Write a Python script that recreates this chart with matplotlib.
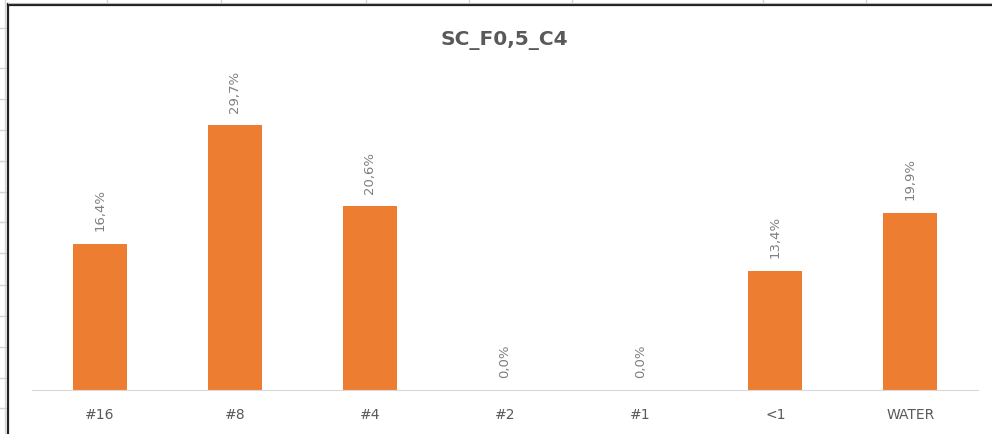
import matplotlib
matplotlib.use("Agg")
import matplotlib.pyplot as plt
from matplotlib.lines import Line2D

categories = ["#16", "#8", "#4", "#2", "#1", "<1", "WATER"]
percent = [16.4, 29.7, 20.6, 0.0, 0.0, 13.4, 19.9]
title = "SC_F0,5_C4"

# sheet grid visible around the chart object (pixels)
col_lines = [107, 221, 366, 469, 572, 763, 866]
row_lines = [28, 68, 99, 130, 161, 192, 222, 253, 285, 316, 347, 378, 408]

W, H = 992, 434
plt.rcParams['font.family'] = ['DejaVu Sans']
fig = plt.figure(figsize=(W / 100, H / 100), dpi=100)

# spreadsheet grid lines peeking out at the edges
for x in col_lines:
    fig.add_artist(Line2D([x / W, x / W], [1 - 4 / H, 1], color="#d4d4d4", lw=1))
for y in row_lines:
    fig.add_artist(Line2D([0, 7 / W], [1 - y / H, 1 - y / H], color="#d4d4d4", lw=1))
fig.add_artist(Line2D([4.5 / W, 4.5 / W], [0, 1], color="#d4d4d4", lw=1))

# chart object border
fig.add_artist(Line2D([7.5 / W, 7.5 / W], [0, 1 - 4 / H], color="#222222", lw=1.6))
fig.add_artist(Line2D([7.5 / W, 1], [1 - 4.5 / H, 1 - 4.5 / H], color="#222222", lw=1.6))
fig.add_artist(Line2D([7.5 / W, 1], [1 - 3 / H, 1 - 3 / H], color="#bbbbbb", lw=0.8))

ax = fig.add_axes([32 / W, 44 / H, 946 / W, 312 / H])
x = range(len(categories))
ax.bar(x, percent, width=0.40, color="#ed7d31")
ax.set_xlim(-0.5, len(categories) - 0.5)
ax.set_ylim(0, 35)

for xi, v in zip(x, percent):
    ax.annotate(f"{v:.1f}%".replace(".", ","), (xi, v), xytext=(0, 9),
                textcoords="offset points", rotation=90, ha="center", va="bottom",
                fontsize=9.5, color="#7f7f7f")

ax.set_xticks(list(x))
ax.set_xticklabels(categories, fontsize=10, color="#595959")
ax.tick_params(axis="x", length=0, pad=13)
ax.set_yticks([])
for s in ["top", "right", "left"]:
    ax.spines[s].set_visible(False)
ax.spines["bottom"].set_color("#d9d9d9")

fig.text(504 / W, 1 - 40 / H, title, ha="center", va="center",
         fontsize=14.5, fontweight="bold", color="#595959")

fig.savefig("out.png", dpi=100)
